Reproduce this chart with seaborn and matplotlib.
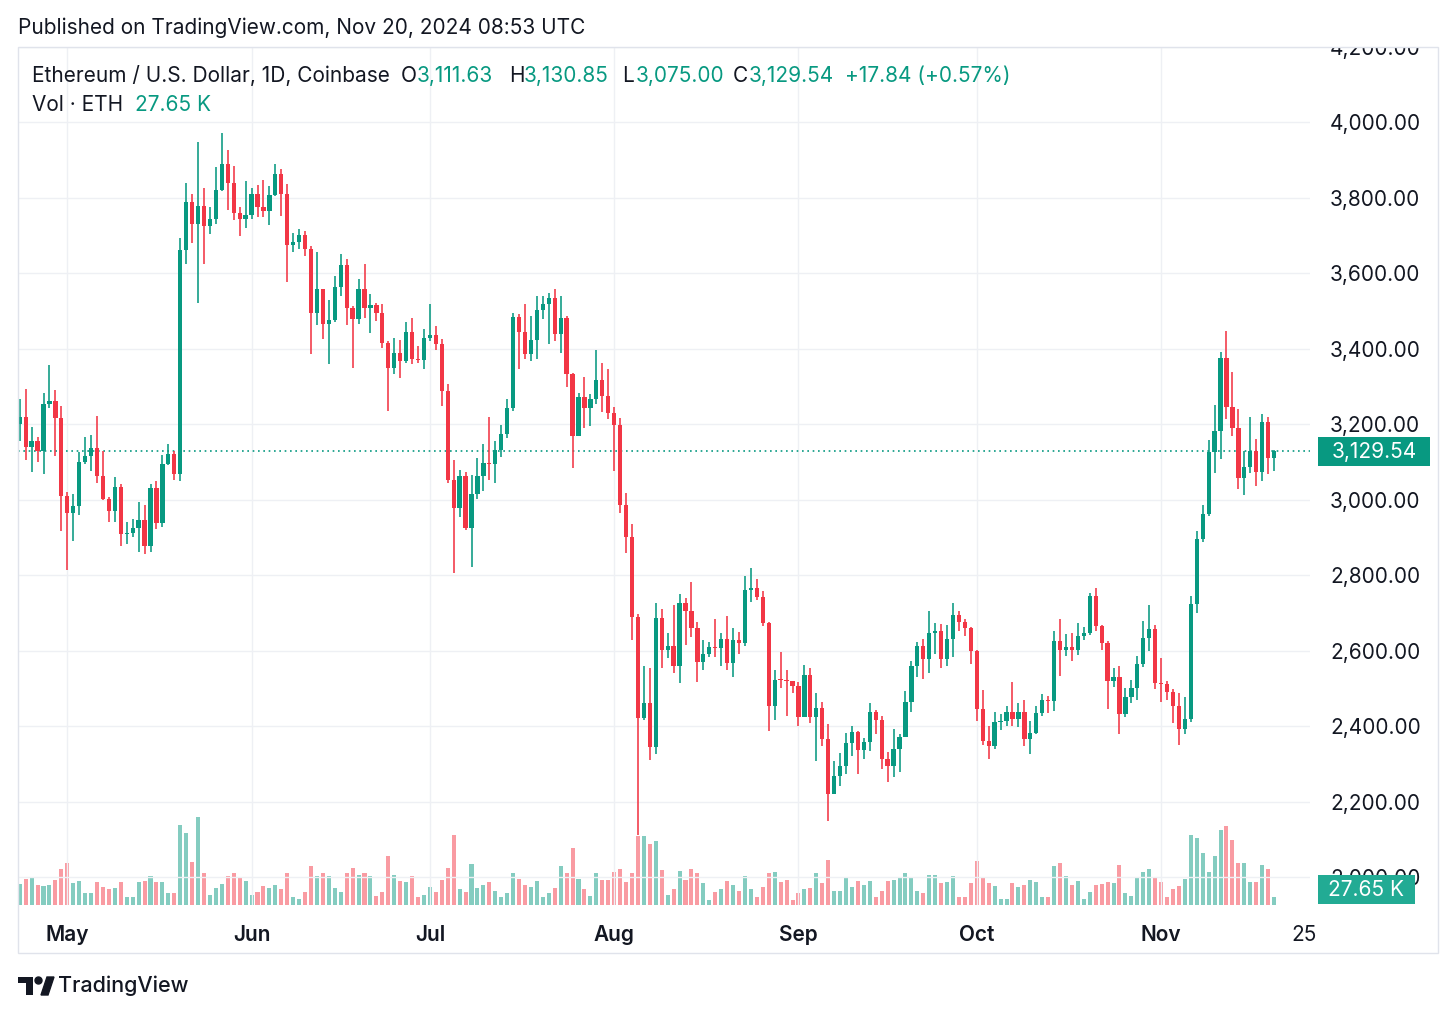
import numpy as np
import pandas as pd
import matplotlib.pyplot as plt
import matplotlib.patches as mpatches
import seaborn as sns

# =====================================
# Data (ETH/USD daily, Coinbase)
# =====================================
W, H = 1456, 1016

first_open = 3202

closes = [
    3218, 3140, 3155, 3130, 3253, 3262, 3217, 3011,
    2966, 2984, 3101, 3115, 3137, 3062, 3002, 2971,
    3033, 2908, 2912, 2926, 2947, 2877, 3031, 2939,
    3094, 3122, 3069, 3661, 3789, 3732, 3778, 3725,
    3745, 3822, 3890, 3840, 3760, 3745, 3756, 3811,
    3776, 3765, 3809, 3864, 3811, 3674, 3683, 3703,
    3665, 3496, 3558, 3465, 3476, 3565, 3622, 3507,
    3480, 3558, 3507, 3516, 3494, 3416, 3349, 3389,
    3367, 3444, 3372, 3370, 3429, 3436, 3414, 3288,
    3053, 2978, 3064, 2925, 3016, 3062, 3097, 3094,
    3133, 3175, 3243, 3485, 3444, 3385, 3423, 3504,
    3518, 3535, 3438, 3482, 3332, 3170, 3273, 3243,
    3268, 3317, 3276, 3230, 3199, 2986, 2902, 2690,
    2421, 2461, 2344, 2686, 2602, 2611, 2558, 2726,
    2704, 2661, 2571, 2590, 2610, 2607, 2632, 2568,
    2628, 2619, 2761, 2765, 2743, 2674, 2452, 2523,
    2521, 2519, 2506, 2423, 2535, 2423, 2447, 2365,
    2221, 2269, 2294, 2356, 2384, 2337, 2358, 2438,
    2416, 2314, 2294, 2340, 2372, 2463, 2558, 2612,
    2578, 2647, 2651, 2578, 2631, 2695, 2675, 2659,
    2600, 2444, 2360, 2347, 2411, 2413, 2437, 2419,
    2437, 2367, 2381, 2435, 2470, 2466, 2625, 2601,
    2609, 2601, 2638, 2647, 2744, 2664, 2619, 2519,
    2531, 2431, 2478, 2502, 2564, 2634, 2657, 2513,
    2511, 2490, 2453, 2393, 2419, 2723, 2896, 2962,
    3127, 3183, 3375, 3245, 3189, 3057, 3088, 3130,
    3074, 3207, 3111.63, 3129.54,
]

highs = [
    3268, 3293, 3193, 3166, 3282, 3357, 3290, 3249,
    3020, 3015, 3126, 3166, 3172, 3221, 3130, 3008,
    3060, 3042, 2941, 2950, 2993, 2987, 3041, 3049,
    3119, 3148, 3128, 3694, 3840, 3811, 3947, 3825,
    3776, 3881, 3972, 3926, 3884, 3776, 3844, 3826,
    3833, 3848, 3831, 3890, 3877, 3838, 3706, 3718,
    3712, 3672, 3656, 3558, 3529, 3592, 3652, 3638,
    3514, 3585, 3625, 3545, 3521, 3518, 3420, 3428,
    3423, 3471, 3483, 3407, 3452, 3518, 3460, 3425,
    3308, 3106, 3080, 3073, 3066, 3111, 3149, 3219,
    3155, 3199, 3267, 3496, 3493, 3518, 3488, 3540,
    3540, 3549, 3559, 3540, 3487, 3336, 3283, 3326,
    3281, 3396, 3363, 3347, 3245, 3217, 3017, 2935,
    2697, 2558, 2554, 2727, 2711, 2646, 2721, 2750,
    2739, 2783, 2675, 2628, 2623, 2683, 2646, 2692,
    2659, 2650, 2798, 2819, 2789, 2757, 2677, 2550,
    2596, 2548, 2520, 2516, 2562, 2553, 2487, 2463,
    2405, 2307, 2329, 2381, 2400, 2387, 2369, 2462,
    2443, 2427, 2331, 2392, 2378, 2494, 2573, 2624,
    2631, 2704, 2674, 2671, 2668, 2727, 2704, 2685,
    2663, 2602, 2495, 2400, 2437, 2431, 2453, 2516,
    2460, 2470, 2413, 2453, 2486, 2481, 2651, 2684,
    2645, 2647, 2673, 2663, 2754, 2766, 2669, 2626,
    2555, 2559, 2502, 2521, 2586, 2679, 2720, 2667,
    2581, 2519, 2499, 2487, 2478, 2745, 2918, 2986,
    3157, 3250, 3391, 3446, 3338, 3241, 3130, 3219,
    3161, 3226, 3220, 3130.85,
]

lows = [
    3155, 3104, 3073, 3101, 3068, 3242, 3115, 2917,
    2813, 2891, 2959, 3094, 3075, 3044, 2998, 2941,
    2940, 2877, 2883, 2900, 2861, 2855, 2861, 2923,
    2929, 3092, 3053, 3050, 3624, 3681, 3521, 3626,
    3705, 3731, 3819, 3769, 3741, 3699, 3721, 3745,
    3750, 3750, 3729, 3806, 3752, 3577, 3656, 3665,
    3646, 3385, 3462, 3425, 3360, 3471, 3539, 3462,
    3349, 3465, 3483, 3443, 3474, 3403, 3234, 3334,
    3323, 3363, 3361, 3362, 3347, 3420, 3398, 3248,
    3045, 2807, 2954, 2919, 2821, 3002, 3022, 3053,
    3044, 3113, 3164, 3234, 3347, 3374, 3367, 3374,
    3480, 3414, 3420, 3388, 3299, 3084, 3168, 3190,
    3195, 3255, 3232, 3214, 3075, 2964, 2858, 2629,
    2111, 2417, 2311, 2326, 2553, 2580, 2542, 2514,
    2615, 2635, 2518, 2548, 2584, 2584, 2559, 2548,
    2530, 2592, 2612, 2730, 2733, 2665, 2388, 2415,
    2500, 2426, 2488, 2399, 2423, 2409, 2307, 2347,
    2148, 2219, 2241, 2272, 2321, 2274, 2313, 2334,
    2378, 2285, 2251, 2266, 2278, 2372, 2438, 2529,
    2525, 2542, 2591, 2555, 2560, 2584, 2651, 2640,
    2565, 2413, 2349, 2312, 2338, 2389, 2400, 2400,
    2398, 2347, 2325, 2378, 2428, 2435, 2440, 2532,
    2585, 2572, 2589, 2629, 2642, 2651, 2603, 2446,
    2504, 2378, 2425, 2462, 2469, 2557, 2599, 2499,
    2464, 2469, 2407, 2351, 2378, 2410, 2701, 2888,
    2956, 3071, 3108, 3214, 3170, 3028, 3012, 3071,
    3037, 3050, 3068, 3075.00,
]

# volume in thousands of ETH
volumes_k = [
    69, 86, 91, 67, 63, 67, 84, 119,
    141, 72, 80, 39, 39, 77, 61, 52,
    55, 78, 28, 25, 78, 80, 97, 77,
    77, 39, 39, 265, 239, 144, 292, 107,
    34, 56, 69, 97, 105, 91, 80, 34,
    44, 64, 56, 67, 52, 107, 28, 20,
    44, 130, 95, 105, 97, 55, 44, 107,
    124, 100, 105, 97, 31, 44, 163, 100,
    80, 75, 97, 25, 34, 61, 44, 84,
    124, 234, 52, 44, 135, 57, 67, 75,
    47, 25, 41, 107, 86, 67, 61, 80,
    28, 41, 55, 130, 105, 190, 86, 53,
    30, 107, 84, 84, 110, 119, 75, 107,
    229, 229, 201, 212, 116, 34, 54, 112,
    84, 121, 107, 73, 17, 43, 54, 80,
    67, 46, 96, 52, 28, 61, 107, 110,
    75, 84, 17, 41, 52, 57, 107, 73,
    150, 48, 48, 89, 61, 80, 66, 80,
    28, 48, 80, 84, 92, 107, 92, 46,
    41, 100, 98, 73, 75, 95, 25, 28,
    73, 146, 89, 72, 63, 20, 20, 73,
    61, 66, 84, 77, 28, 28, 130, 141,
    95, 66, 80, 20, 43, 66, 69, 75,
    73, 133, 40, 31, 92, 110, 119, 89,
    78, 25, 54, 63, 87, 234, 222, 173,
    110, 163, 249, 263, 216, 141, 139, 75,
    75, 133, 119, 27.65,
]

dates = pd.date_range("2024-04-23", "2024-11-20", freq="D")
tick_labels = ["May", "Jun", "Jul", "Aug", "Sep", "Oct", "Nov", "25"]
tick_dates = ["2024-05-01", "2024-06-01", "2024-07-01", "2024-08-01",
              "2024-09-01", "2024-10-01", "2024-11-01", "2024-11-25"]

UP = "#089981"
DN = "#F23645"
VOL_UP = "#84ccc0"
VOL_DN = "#f99ba2"
TXT = "#131722"
GRID = "#eef0f4"
FS = 15


def fx(px):
    return px / W


def fy(py):
    return 1 - py / H


def add_rect(x0, y0, x1, y1, **kw):
    r = mpatches.Rectangle((fx(x0), fy(y1)), fx(x1) - fx(x0), fy(y0) - fy(y1),
                           transform=fig.transFigure, **kw)
    fig.add_artist(r)
    return r


# =====================================
# Figure
# =====================================
sns.set_theme(style="white")
plt.rcParams["font.family"] = ["Inter", "DejaVu Sans"]

n = len(closes)
idx = np.arange(n)
c = np.array(closes, dtype=float)
o = np.array([first_open] + closes[:-1], dtype=float)
hi = np.maximum(np.array(highs, dtype=float), np.maximum(o, c))
lo = np.minimum(np.array(lows, dtype=float), np.minimum(o, c))
up = c >= o
colors = np.where(up, UP, DN)

fig = plt.figure(figsize=(W / 100, H / 100), dpi=100)
rect = [fx(18), fy(905), fx(1310) - fx(18), fy(47) - fy(905)]
axv = fig.add_axes(rect)
ax = fig.add_axes(rect, sharex=axv)
ax.set_facecolor("none")

xmin, xmax = -0.29, 217.05

# volume pane (bottom overlay)
vol_df = pd.DataFrame({"idx": idx, "vol": volumes_k,
                       "dir": np.where(up, "up", "down")})
sns.barplot(data=vol_df, x="idx", y="vol", hue="dir",
            palette={"up": VOL_UP, "down": VOL_DN},
            native_scale=True, dodge=False, width=0.68, saturation=1,
            errorbar=None, legend=False, linewidth=0, ax=axv)
axv.set_ylim(0, 858 * 3.32)
axv.set_xlim(xmin, xmax)
axv.axis("off")

# grid
for p in range(2000, 4201, 200):
    ax.axhline(p, color=GRID, lw=1, zorder=0)
month_pos = [(pd.Timestamp(d) - dates[0]).days for d in tick_dates]
for p in month_pos[:-1]:
    ax.axvline(p, color=GRID, lw=1, zorder=0)

# candles
ax.vlines(idx, lo, hi, colors=colors, lw=1.15, zorder=3)
body = np.maximum(np.abs(c - o), 2.6)
ax.bar(idx, body, bottom=np.minimum(o, c), width=0.72, color=colors,
       linewidth=0, zorder=4)

# last price line
ax.axhline(closes[-1], color=UP, lw=1.2, ls=(0, (1, 2.2)), zorder=2)

ax.set_xlim(xmin, xmax)
ax.set_ylim(1925.8, 4198.7)
ax.yaxis.tick_right()
ax.set_yticks(np.arange(2000, 4201, 200))
ax.set_yticklabels([f"{v:,.2f}" for v in np.arange(2000, 4201, 200)])
ax.set_xticks(month_pos)
ax.set_xticklabels(tick_labels)
for lab in ax.get_xticklabels()[:-1]:
    lab.set_fontweight("semibold")
ax.tick_params(axis="y", length=0, pad=14.4, labelsize=FS, labelcolor=TXT)
ax.tick_params(axis="x", length=0, pad=14.5, labelsize=FS, labelcolor=TXT)
for s in ax.spines.values():
    s.set_visible(False)

# =====================================
# Overlays: header, legend, price tags, border, logo
# =====================================
add_rect(1290, 0, 1456, 46.5, facecolor="white", edgecolor="none", zorder=10)
add_rect(18, 47, 1438, 953, facecolor="none", edgecolor="#e0e3eb", lw=1, zorder=12)

fig.text(fx(18), fy(28), "Published on TradingView.com, Nov 20, 2024 08:53 UTC",
         fontsize=FS, color=TXT, va="center", ha="left", zorder=13)

fig.text(fx(32), fy(76), "Ethereum / U.S. Dollar, 1D, Coinbase",
         fontsize=FS, color=TXT, va="center", ha="left", zorder=13)
ohlc_parts = [(401, "O", TXT), (417, "3,111.63", UP),
              (509, "H", TXT), (524, "3,130.85", UP),
              (622, "L", TXT), (636, "3,075.00", UP),
              (733, "C", TXT), (749, "3,129.54", UP),
              (845, "+17.84 (+0.57%)", UP)]
for xp, s, col in ohlc_parts:
    fig.text(fx(xp), fy(76), s, fontsize=FS, color=col, va="center",
             ha="left", zorder=13)
fig.text(fx(32), fy(105), "Vol · ETH", fontsize=FS, color=TXT,
         va="center", ha="left", zorder=13)
fig.text(fx(135), fy(105), "27.65 K", fontsize=FS, color=UP,
         va="center", ha="left", zorder=13)

# price tags on the right axis
add_rect(1318, 437, 1430, 466, facecolor=UP, edgecolor="none", zorder=13)
fig.text(fx(1374), fy(452), "3,129.54", fontsize=FS, color="white",
         va="center", ha="center", zorder=14)
add_rect(1318, 875, 1415, 904, facecolor="#22ab94", edgecolor="none", zorder=13)
fig.text(fx(1366.5), fy(890), "27.65 K", fontsize=FS, color="white",
         va="center", ha="center", zorder=14)

# TradingView logo
add_rect(18, 977, 33, 983, facecolor=TXT, edgecolor="none", zorder=13)
add_rect(26, 977, 33, 995, facecolor=TXT, edgecolor="none", zorder=13)
fig.add_artist(mpatches.Ellipse((fx(38.5), fy(980.5)), 7 / W, 7 / H,
                                transform=fig.transFigure, color=TXT, zorder=13))
fig.add_artist(mpatches.Polygon([(fx(41), fy(995)), (fx(47), fy(977)),
                                 (fx(54), fy(977)), (fx(48), fy(995))],
                                closed=True, transform=fig.transFigure,
                                color=TXT, zorder=13))
fig.text(fx(58), fy(986), "TradingView", fontsize=15.5, color=TXT,
         fontweight="medium", va="center", ha="left", zorder=13)

fig.savefig("out.png", dpi=100, facecolor="white")
